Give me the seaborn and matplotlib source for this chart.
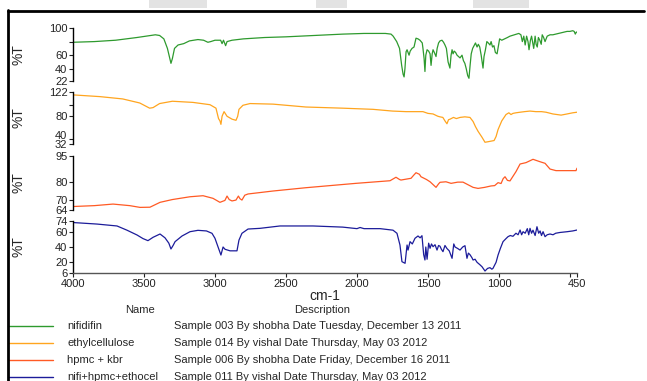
import matplotlib
matplotlib.use("Agg")
import matplotlib.pyplot as plt
import matplotlib.transforms as mtransforms
import seaborn as sns
import pandas as pd
from matplotlib.patches import Rectangle
from matplotlib.lines import Line2D

# ---- data: (wavenumber cm-1, %T) ----
nifidifin_wn = [4000, 3850, 3700, 3550, 3420, 3390, 3360, 3335, 3318, 3310, 3300, 3285, 3260, 3220, 3180,
                3120, 3080, 3050, 3030, 3000, 2960, 2950, 2940, 2925, 2915, 2880, 2800, 2650, 2500, 2300,
                2100, 1950, 1800, 1760, 1745, 1720, 1700, 1685, 1675, 1668, 1662, 1654, 1647, 1640, 1633,
                1625, 1612, 1598, 1584, 1570, 1556, 1540, 1535, 1527, 1521, 1515, 1506, 1495, 1485, 1478,
                1470, 1464, 1455, 1443, 1435, 1425, 1415, 1401, 1390, 1380, 1370, 1358, 1345, 1337, 1330,
                1323, 1315, 1305, 1295, 1285, 1274, 1260, 1250, 1240, 1230, 1220, 1211, 1203, 1195, 1185,
                1175, 1165, 1154, 1145, 1135, 1125, 1115, 1112, 1105, 1095, 1085, 1075, 1063, 1055, 1045,
                1035, 1025, 1013, 1005, 995, 980, 960, 940, 922, 890, 860, 845, 835, 825, 815, 805, 795,
                788, 778, 770, 762, 755, 745, 738, 730, 722, 712, 702, 695, 685, 675, 660, 640, 620, 600,
                580, 560, 540, 520, 500, 480, 470, 462, 455, 450]
nifidifin_t = [79, 80, 82, 86, 90, 89, 84, 70, 55, 48, 55, 70, 75, 77, 81,
               83, 82, 79, 80, 82, 82, 77, 82, 74, 80, 82, 84, 86, 87, 89,
               91, 92, 92, 91, 88, 80, 70, 45, 32, 28, 40, 65, 68, 64, 60,
               66, 70, 72, 85, 84, 82, 78, 70, 55, 36, 60, 68, 66, 62, 45,
               62, 68, 64, 58, 70, 78, 81, 82, 79, 75, 70, 50, 41, 60, 68,
               62, 66, 64, 60, 58, 56, 60, 52, 48, 40, 30, 26, 45, 62, 70,
               74, 78, 72, 76, 72, 60, 45, 41, 58, 68, 80, 78, 75, 80, 72,
               74, 64, 62, 72, 84, 82, 84, 86, 88, 90, 92, 90, 80, 88, 75, 88, 80,
               68, 82, 88, 78, 70, 88, 76, 72, 86, 82, 76, 90, 86, 80, 88, 90, 90, 91,
               92, 93, 94, 95, 95, 96, 95, 91, 94, 94]

ethyl_wn = [4000, 3810, 3650, 3530, 3460, 3436, 3390, 3300, 3155, 3035, 2993, 2975, 2965, 2958, 2950,
            2936, 2915, 2880, 2852, 2840, 2831, 2803, 2753, 2591, 2359, 2100, 1887, 1750, 1654, 1535,
            1500, 1464, 1430, 1415, 1395, 1380, 1366, 1355, 1344, 1320, 1300, 1274, 1240, 1204, 1182,
            1165, 1147, 1120, 1098, 1075, 1034, 1020, 1006, 980, 950, 930, 915, 901, 880, 851, 820,
            781, 740, 700, 668, 620, 562, 520, 480, 450]
ethyl_t = [117, 114, 110, 103, 94, 95, 102, 106, 104, 100, 94, 76, 72, 66, 80,
           88, 80, 75, 73, 80, 92, 99, 102, 101, 96, 94, 92, 89, 88, 88,
           85, 84, 80, 79, 78, 72, 67, 74, 75, 78, 76, 78, 79, 78, 71,
           62, 54, 44, 35, 36, 38, 45, 57, 72, 83, 86, 83, 85, 86, 87, 88,
           89, 88, 88, 87, 84, 82, 84, 86, 87]

hpmc_wn = [4000, 3850, 3718, 3600, 3528, 3458, 3387, 3300, 3176, 3084, 3014, 2965, 2930, 2915, 2900,
           2880, 2852, 2835, 2824, 2810, 2790, 2767, 2591, 2359, 2007, 1767, 1725, 1700, 1690, 1619,
           1600, 1584, 1560, 1549, 1510, 1485, 1443, 1425, 1415, 1373, 1337, 1290, 1253, 1182, 1147,
           1100, 1056, 1030, 1006, 985, 970, 957, 940, 922, 880, 851, 809, 760, 710, 675, 640, 598,
           500, 457, 450]
hpmc_t = [66, 66.5, 67.4, 66.5, 65.5, 65.6, 68.4, 70, 71.6, 72.2, 70.7, 68.4, 69.5, 72, 70,
          69.2, 69.7, 72, 70.5, 69.7, 72.5, 73.2, 74.9, 76.8, 79.3, 80.8, 82.8, 81.5, 81.2, 82.2,
          84, 85.4, 84.5, 83.1, 81.5, 80.2, 77, 79, 79.9, 80.2, 79.3, 80, 80, 77, 76.4,
          77, 77.8, 78, 79.7, 79.2, 82, 83.1, 81, 80.7, 86, 90.4, 91.2, 93.1, 91.7, 90.8, 87.5, 86.6,
          86.6, 86.6, 88]

mix_wn = [4000, 3831, 3690, 3620, 3549, 3507, 3472, 3436, 3387, 3352, 3325, 3310, 3295, 3281, 3232,
          3176, 3120, 3060, 3021, 3000, 2979, 2958, 2943, 2929, 2894, 2845, 2831, 2810, 2767, 2683,
          2542, 2309, 2100, 2000, 1978, 1950, 1837, 1746, 1718, 1697, 1683, 1661, 1647, 1640, 1626,
          1610, 1591, 1570, 1555, 1542, 1530, 1521, 1515, 1506, 1495, 1485, 1475, 1464, 1450, 1436,
          1425, 1415, 1405, 1394, 1380, 1366, 1350, 1330, 1318, 1309, 1290, 1274, 1255, 1239, 1225,
          1215, 1204, 1190, 1182, 1168, 1154, 1135, 1119, 1098, 1080, 1063, 1050, 1042, 1020, 1006,
          990, 971, 950, 936, 920, 901, 880, 865, 851, 840, 830, 815, 800, 790, 781, 770, 760, 745,
          732, 720, 710, 700, 689, 675, 660, 640, 619, 600, 570, 520, 480, 450]
mix_t = [72, 70, 67.5, 62, 55.7, 51, 48.3, 52.7, 57, 52, 45, 37.4, 42, 47, 54.4,
         60, 61.8, 61, 57.9, 51.4, 40.4, 29.5, 40, 37, 35, 35, 49, 57.9, 63.5, 64.4,
         67.5, 67.5, 66, 64, 65.5, 64, 64, 62, 57.9, 42.6, 20.8, 18.7, 42.6, 36, 47,
         44, 51.4, 54.4, 52, 54.8, 30, 23, 40, 24, 45, 38.3, 44, 40.4, 43, 36,
         42, 41, 37, 33.9, 42, 38, 35, 25.2, 44, 40, 38, 36, 40, 41.7, 25.2,
         32, 30, 26, 23, 24, 20, 17, 14.2, 8.6, 12, 13, 11, 12, 20, 29.5,
         38, 47, 51, 53.5, 55, 54, 58, 56, 62.2, 56, 60, 58, 64, 56, 64.4, 58, 62, 55,
         66.5, 58, 61, 55, 60, 53.5, 56, 57, 56, 58, 59, 60, 61, 62.2]

names = ["nifidifin", "ethylcellulose", "hpmc + kbr", "nifi+hpmc+ethocel"]
descriptions = ["Sample 003 By shobha Date Tuesday, December 13 2011",
                "Sample 014 By vishal Date Thursday, May 03 2012",
                "Sample 006 By shobha Date Friday, December 16 2011",
                "Sample 011 By vishal Date Thursday, May 03 2012"]
colors = ["#2e9a2e", "#ffa51f", "#ff5a24", "#1c1c9a"]
y_limits = [(22, 100), (32, 122), (64, 95), (6, 74)]
y_ticks = [[100, 80, 60, 40, 22], [122, 100, 80, 40, 32], [95, 80, 70, 64], [74, 60, 40, 20, 6]]
y_labels = [["100", "", "60", "40", "22"], ["122", "", "80", "40", "32"],
            ["95", "80", "70", "64"], ["74", "60", "40", "20", "6"]]
x_ticks = [4000, 3500, 3000, 2500, 2000, 1500, 1000, 500, 450]
x_labels = ["4000", "3500", "3000", "2500", "2000", "1500", "1000", "", "450"]

spectra = [(nifidifin_wn, nifidifin_t), (ethyl_wn, ethyl_t), (hpmc_wn, hpmc_t), (mix_wn, mix_t)]

sns.set_style("white")
plt.rcParams["font.family"] = ["Liberation Sans", "DejaVu Sans"]

W, H = 647, 381
fig = plt.figure(figsize=(W / 100, H / 100), dpi=100)

# panel rows in pixel coordinates (top, bottom)
rows = [(28, 81), (92, 144), (156, 210), (221, 273)]
left_px, right_px = 73, 577

for i, ((wn, t), (top, bot)) in enumerate(zip(spectra, rows)):
    ax = fig.add_axes([left_px / W, 1 - bot / H, (right_px - left_px) / W, (bot - top) / H])
    df = pd.DataFrame({"wn": wn, "T": t})
    sns.lineplot(data=df, x="wn", y="T", ax=ax, color=colors[i], lw=0.9, sort=False, estimator=None)
    ax.set_xlim(4000, 450)
    ax.set_ylim(*y_limits[i])
    ax.set_yticks(y_ticks[i])
    ax.set_yticklabels(y_labels[i])
    ax.set_ylabel("%T", fontsize=10)
    ax.yaxis.set_label_coords(-0.095, 0.5)
    ax.set_xlabel("")
    for s in ["top", "right"]:
        ax.spines[s].set_visible(False)
    ax.spines["left"].set_color("black")
    ax.spines["left"].set_linewidth(1.0)
    ax.tick_params(axis="y", which="both", left=True, length=3, width=0.8, pad=1,
                   labelsize=8, colors="#222222")
    ax.patch.set_alpha(0)
    if i == 1:
        # the reference lifts the "40" label clear of "32"
        lbl = ax.get_yticklabels()[3]
        lbl.set_transform(lbl.get_transform() + mtransforms.ScaledTranslation(0, 4 / 100, fig.dpi_scale_trans))
    if i < 3:
        ax.spines["bottom"].set_visible(False)
        ax.set_xticks([])
    else:
        ax.spines["bottom"].set_color("#555555")
        ax.spines["bottom"].set_linewidth(1.0)
        ax.set_xticks(x_ticks)
        ax.set_xticklabels(x_labels)
        ax.tick_params(axis="x", bottom=True, length=3, width=0.8, pad=1, labelsize=8, colors="#222222")
        ax.set_xlabel("cm-1", fontsize=10, labelpad=0)

# legend table below the plot
fig.text(140 / W, 1 - 310 / H, "Name", fontsize=8, ha="center", va="center")
fig.text(322 / W, 1 - 310 / H, "Description", fontsize=8, ha="center", va="center")
for i, y in enumerate([326, 343, 360, 377]):
    fig.add_artist(Line2D([8 / W, 53 / W], [1 - y / H, 1 - y / H], color=colors[i], lw=1.0))
    fig.text(67 / W, 1 - y / H, names[i], fontsize=8, ha="left", va="center")
    fig.text(174 / W, 1 - y / H, descriptions[i], fontsize=8, ha="left", va="center")

# outer frame and faint grey patches at the top edge
fig.add_artist(Line2D([7.5 / W, 7.5 / W], [0, 1 - 10 / H], color="black", lw=2))
fig.add_artist(Line2D([7.5 / W, 644 / W], [1 - 10.5 / H, 1 - 10.5 / H], color="black", lw=2))
for x0, x1 in [(149, 207), (316, 347), (473, 529)]:
    fig.add_artist(Rectangle((x0 / W, 1 - 8 / H), (x1 - x0) / W, 8 / H, color="#e3e3e3", lw=0))

fig.savefig("out.png", dpi=100)
